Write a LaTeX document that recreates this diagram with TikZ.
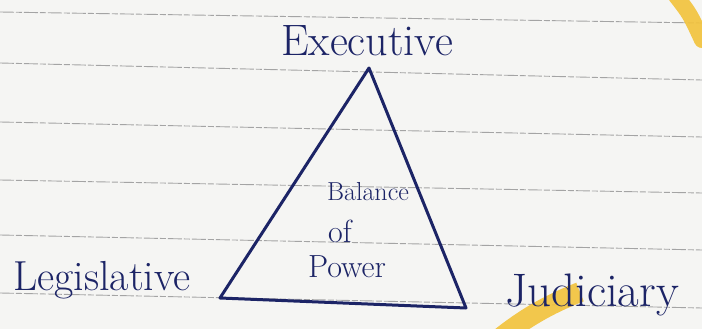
\documentclass[tikz,border=0pt]{standalone}
\usepackage{tikz}

\definecolor{ink}{HTML}{1C2466}
\definecolor{rule}{HTML}{A4A4A4}
\definecolor{paper}{HTML}{F5F5F3}
\definecolor{marker}{HTML}{F2C23A}

\tikzset{
	branch/.style={text=ink, inner sep=0pt, font=\fontsize{44}{48}\selectfont},
	inside/.style={text=ink, inner sep=0pt, font=\fontsize{32}{36}\selectfont},
	ruled/.style={rule, line width=0.9pt, dash pattern=on 14pt off 2pt on 6pt off 2pt},
}

\begin{document}
\begin{tikzpicture}[x=1pt, y=-1pt]
	\fill[paper] (0,0) rectangle (702,329);
	\useasboundingbox (0,0) rectangle (702,329);

	% ruled paper
	\draw[ruled] (0, 12) -- (702, 23);
	\draw[ruled] (0, 63) -- (702, 80);
	\draw[ruled] (0,122) -- (702,137);
	\draw[ruled] (0,180) -- (702,193);
	\draw[ruled] (0,235) -- (702,250);
	\draw[ruled] (0,293) -- (702,308);

	% highlighter
	\draw[marker, opacity=0.9, line width=16pt, line cap=round] (676,-4) .. controls (690,14) .. (702,40);
	\draw[marker, opacity=0.9, line width=20pt] (500,338) .. controls (530,314) and (555,302) .. (580,292);

	\coordinate (T-00) at (369, 68);
	\coordinate (T-01) at (220,298);
	\coordinate (T-02) at (466,308);

	\node[branch, anchor=base] (B-00) at (367, 56) {Executive};
	\node[branch, anchor=base, font=\fontsize{42}{46}\selectfont] (B-01) at (102,290) {Legislative};
	\node[branch, anchor=base west, font=\fontsize{47}{50}\selectfont] (B-02) at (505,306) {Judiciary};

	\node[inside, anchor=base, font=\fontsize{26}{30}\selectfont] (C-00) at (368,200) {Balance};
	\node[inside, anchor=base] (C-01) at (340,242) {of};
	\node[inside, anchor=base] (C-02) at (347,277) {Power};

	\draw[ink, line width=3pt, line join=round] (T-00) -- (T-01) -- (T-02) -- cycle;

\end{tikzpicture}
\end{document}
